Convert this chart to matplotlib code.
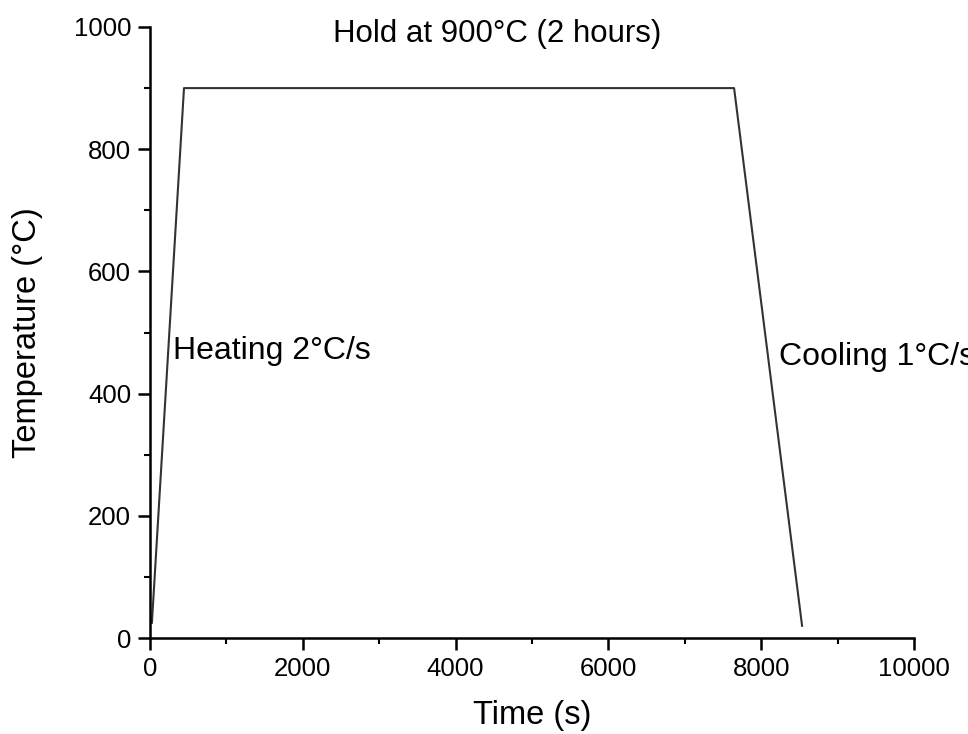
import matplotlib
matplotlib.use("Agg")
import matplotlib.pyplot as plt
from matplotlib.ticker import MultipleLocator

time_s = [25, 445, 7645, 8535]
temp_c = [25, 900, 900, 20]

plt.rcParams['font.family'] = ['Liberation Sans', 'DejaVu Sans']

fig = plt.figure(figsize=(9.68, 7.34), dpi=100)
ax = fig.add_axes([150/968, (734-638)/734, (914-150)/968, (638-27)/734])
ax.plot(time_s, temp_c, color='#333333', lw=1.5)
ax.set_xlim(0, 10000)
ax.set_ylim(0, 1000)
ax.xaxis.set_major_locator(MultipleLocator(2000))
ax.xaxis.set_minor_locator(MultipleLocator(1000))
ax.yaxis.set_major_locator(MultipleLocator(200))
ax.yaxis.set_minor_locator(MultipleLocator(100))
for s in ['top', 'right']:
    ax.spines[s].set_visible(False)
for s in ['left', 'bottom']:
    ax.spines[s].set_linewidth(1.8)
ax.tick_params(which='major', direction='out', length=8.6, width=1.8, labelsize=18.5, pad=5)
ax.tick_params(which='minor', direction='out', length=4.3, width=1.5)
ax.set_xlabel('Time (s)', fontsize=23.5, labelpad=14)
ax.set_ylabel('Temperature (°C)', fontsize=23.5, labelpad=22)

ax.text(4550, 988, 'Hold at 900°C (2 hours)', fontsize=22.5, ha='center', va='center', clip_on=False)
ax.text(300, 470, 'Heating 2°C/s', fontsize=23, ha='left', va='center')
ax.text(8230, 460, 'Cooling 1°C/s', fontsize=23, ha='left', va='center', clip_on=False)

fig.savefig('out.png', dpi=100)
